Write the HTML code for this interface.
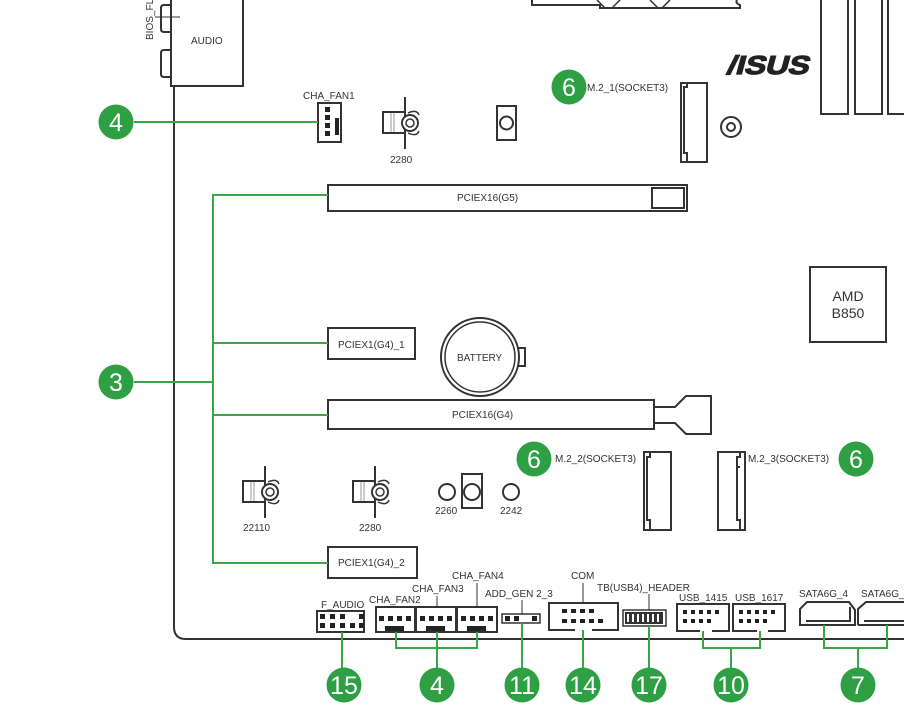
<!DOCTYPE html>
<html><head><meta charset="utf-8"><style>
html,body{margin:0;padding:0;background:#fff;}
svg{display:block;}
text{font-family:"Liberation Sans",sans-serif;fill:#333;}
.n{fill:#fff;font-size:25px;text-anchor:middle;}
</style></head><body>
<svg width="904" height="719" viewBox="0 0 904 719" xmlns="http://www.w3.org/2000/svg">
<defs>
<g id="so">
 <line x1="0" y1="-26" x2="0" y2="26" stroke="#333" stroke-width="2"/>
 <rect x="-22" y="-11" width="22" height="21" fill="#fff" stroke="#333" stroke-width="2"/>
 <line x1="-14" y1="-10" x2="-14" y2="9" stroke="#999" stroke-width="1"/>
 <line x1="-11" y1="-10" x2="-11" y2="9" stroke="#999" stroke-width="1"/>
 <path d="M3,-10 Q12,-14 14,-8 M3,10 Q12,14 14,8" fill="none" stroke="#333" stroke-width="1.5"/>
 <circle cx="5" cy="0" r="8" fill="#fff" stroke="#333" stroke-width="2"/>
 <circle cx="5" cy="0" r="4" fill="none" stroke="#333" stroke-width="1.5"/>
</g>
</defs>
<g fill="none" stroke="#333" stroke-width="2">
 <path d="M174,86 V627 Q174,639 186,639 H904"/>
 <rect x="171" y="-2" width="72" height="88" fill="#fff"/>
 <path d="M170,5 H164 Q161,5 161,8 V29 Q161,32 164,32 H170"/>
 <path d="M170,50 H164 Q161,50 161,53 V74 Q161,77 164,77 H170"/>
 <line x1="155" y1="17" x2="180" y2="17" stroke-width="1"/>
 <path d="M532,0 V5 H600 V8 H740 V5 Q735,3 737,0" />
 <path d="M597,0 L605,8 M620,0 L612,8 M650,0 L658,8 M670,0 L662,8" stroke-width="1.5"/>
 <rect x="821" y="-2" width="27" height="116"/>
 <rect x="855" y="-2" width="27" height="116"/>
 <rect x="888" y="-2" width="20" height="116"/>
 <rect x="318" y="103" width="23" height="39" fill="#fff"/>
 <rect x="497" y="106" width="19" height="34"/>
 <circle cx="506.5" cy="123" r="6.5"/>
 <path d="M681,83 H707 V162 H681 Z M681,83 H687 V87 H684 V153 H687 V162"/>
 <circle cx="731" cy="127" r="10"/><circle cx="731" cy="127" r="4"/>
 <rect x="328" y="185" width="359" height="26"/>
 <rect x="652" y="188" width="32" height="20"/>
 <rect x="328" y="328" width="87" height="31"/>
 <rect x="328" y="400" width="326" height="29"/>
 <path d="M654,407 H675 L686,396 H711 V434 H686 L675,423 H654"/>
 <rect x="328" y="547" width="89" height="31"/>
 <circle cx="480" cy="357" r="39"/>
 <circle cx="480" cy="357" r="35" stroke-width="1.5"/>
 <path d="M517,348 H525 V366 H517"/>
 <rect x="810" y="267" width="76" height="75"/>
 <path d="M644,452 H671 V530 H644 Z M650,452 V457 H647 V520 H650 V530"/>
 <path d="M718,452 H745 V530 H718 Z M740,452 V457 H737 V467 H740 M737,467 V520 H740 V530"/>
 <circle cx="447" cy="492" r="8"/>
 <rect x="462" y="474" width="20" height="34"/>
 <circle cx="472" cy="492" r="8"/>
 <circle cx="511" cy="492" r="8"/>
 <rect x="317" y="611" width="47" height="21"/>
 <rect x="376" y="607" width="39" height="25"/>
 <rect x="416" y="607" width="40" height="25"/>
 <rect x="457" y="607" width="40" height="25"/>
 <rect x="502" y="614" width="38" height="9" stroke-width="1.5"/>
 <path d="M575,630 H549 V603 H618 V630 H592"/>
 <rect x="623" y="610" width="43" height="16" stroke-width="1.5"/>
 <path d="M700,631 H677 V604 H729 V631 H712"/>
 <path d="M757,631 H733 V604 H785 V631 H768"/>
 <path d="M800,625 H855 V610 L849,602 H807 L800,609 Z M806,621 H850 V607"/>
 <path d="M858,625 H906 M858,625 V609 L866,602 H906 M864,621 H906 V607"/>
</g>
<use href="#so" transform="translate(405,123)"/>
<use href="#so" transform="translate(265,492)"/>
<use href="#so" transform="translate(375,492)"/>
<g fill="#222">
 <rect x="325" y="107" width="5" height="5"/><rect x="325" y="115" width="5" height="5"/><rect x="325" y="123" width="5" height="5"/><rect x="325" y="131" width="5" height="5"/>
 <rect x="335" y="118" width="4" height="17"/>
 <rect x="320" y="614" width="5" height="5"/><rect x="320" y="623" width="5" height="5"/>
 <rect x="330" y="614" width="5" height="5"/><rect x="330" y="623" width="5" height="5"/>
 <rect x="340" y="614" width="5" height="5"/><rect x="340" y="623" width="5" height="5"/>
 <rect x="350" y="623" width="5" height="5"/>
 <rect x="359" y="614" width="5" height="5"/><rect x="359" y="623" width="5" height="5"/>
 <g id="fp"><rect x="379" y="616" width="5" height="5"/><rect x="388" y="616" width="5" height="5"/><rect x="397" y="616" width="5" height="5"/><rect x="406" y="616" width="5" height="5"/><rect x="385" y="626" width="19" height="5"/></g>
 <use href="#fp" transform="translate(41,0)"/>
 <use href="#fp" transform="translate(82,0)"/>
 <rect x="505" y="616" width="5" height="5"/><rect x="514" y="616" width="5" height="5"/><rect x="532" y="616" width="5" height="5"/>
 <rect x="562" y="609" width="5" height="4"/><rect x="571" y="609" width="5" height="4"/><rect x="580" y="609" width="5" height="4"/><rect x="589" y="609" width="5" height="4"/>
 <rect x="562" y="619" width="5" height="4"/><rect x="571" y="619" width="5" height="4"/><rect x="580" y="619" width="5" height="4"/><rect x="589" y="619" width="5" height="4"/><rect x="598" y="619" width="5" height="4"/>
 <rect x="625" y="612" width="38" height="12" fill="#333"/>
 <g id="up"><rect x="683" y="610" width="4" height="4"/><rect x="691" y="610" width="4" height="4"/><rect x="699" y="610" width="4" height="4"/><rect x="707" y="610" width="4" height="4"/><rect x="715" y="610" width="4" height="4"/>
 <rect x="683" y="619" width="4" height="4"/><rect x="691" y="619" width="4" height="4"/><rect x="699" y="619" width="4" height="4"/><rect x="707" y="619" width="4" height="4"/></g>
 <use href="#up" transform="translate(56,0)"/>
</g>
<g fill="#fff"><rect x="627" y="614" width="2" height="8"/><rect x="632" y="614" width="2" height="8"/><rect x="637" y="614" width="2" height="8"/><rect x="642" y="614" width="2" height="8"/><rect x="647" y="614" width="2" height="8"/><rect x="652" y="614" width="2" height="8"/><rect x="657" y="614" width="2" height="8"/></g>
<text x="0" y="0" transform="translate(726,74) skewX(-15)" style="font-size:26px;font-weight:bold;fill:#222;stroke:#222;stroke-width:1.2" textLength="82" lengthAdjust="spacingAndGlyphs">/ISUS</text>
<g fill="none" stroke="#3aa64a" stroke-width="2">
 <line x1="134" y1="122" x2="318" y2="122"/>
 <line x1="134" y1="382" x2="213" y2="382"/>
 <path d="M328,195 H213 V563 H328 M213,343 H328 M213,415 H328"/>
 <line x1="342" y1="632" x2="342" y2="668"/>
 <path d="M396,632 V648 H477 V632 M437,632 V668"/>
 <line x1="522" y1="623" x2="522" y2="668"/>
 <line x1="583" y1="630" x2="583" y2="668"/>
 <line x1="649" y1="626" x2="649" y2="668"/>
 <path d="M703,631 V648 H760 V631 M731,648 V668"/>
 <path d="M824,625 V648 H887 V625 M858,648 V668"/>
</g>
<g stroke="#333" stroke-width="1" fill="none">
 <line x1="437" y1="607" x2="437" y2="596"/>
 <line x1="477" y1="607" x2="477" y2="583"/>
 <line x1="522" y1="614" x2="522" y2="600"/>
 <line x1="583" y1="603" x2="583" y2="583"/>
 <line x1="649" y1="610" x2="649" y2="594"/>
</g>
<g fill="#2ea043">
 <circle cx="116" cy="122" r="17.5"/><circle cx="116" cy="382" r="17.5"/>
 <circle cx="569" cy="87" r="17.5"/><circle cx="534" cy="459" r="17.5"/><circle cx="856" cy="459" r="17.5"/>
 <circle cx="344" cy="685" r="17.5"/><circle cx="437" cy="685" r="17.5"/><circle cx="522" cy="685" r="17.5"/><circle cx="583" cy="685" r="17.5"/><circle cx="649" cy="685" r="17.5"/><circle cx="731" cy="685" r="17.5"/><circle cx="858" cy="685" r="17.5"/>
</g>
<g>
 <text class="n" x="116" y="131">4</text><text class="n" x="116" y="391">3</text>
 <text class="n" x="569" y="96">6</text><text class="n" x="534" y="468">6</text><text class="n" x="856" y="468">6</text>
 <text class="n" x="344" y="694">15</text><text class="n" x="437" y="694">4</text><text class="n" x="522" y="694">11</text><text class="n" x="583" y="694">14</text><text class="n" x="649" y="694">17</text><text class="n" x="731" y="694">10</text><text class="n" x="858" y="694">7</text>
</g>
<g style="font-size:10px">
 <text x="0" y="0" transform="translate(153,40) rotate(-90)">BIOS_FLB</text>
 <text x="191" y="44">AUDIO</text>
 <text x="303" y="99">CHA_FAN1</text>
 <text x="390" y="163">2280</text>
 <text x="587" y="91">M.2_1(SOCKET3)</text>
 <text x="457" y="201">PCIEX16(G5)</text>
 <text x="338" y="348">PCIEX1(G4)_1</text>
 <text x="457" y="361">BATTERY</text>
 <text x="452" y="418">PCIEX16(G4)</text>
 <text x="555" y="462">M.2_2(SOCKET3)</text>
 <text x="748" y="462">M.2_3(SOCKET3)</text>
 <text x="243" y="531">22110</text>
 <text x="359" y="531">2280</text>
 <text x="435" y="514">2260</text>
 <text x="500" y="514">2242</text>
 <text x="338" y="566">PCIEX1(G4)_2</text>
 <text x="321" y="608">F_AUDIO</text>
 <text x="369" y="603">CHA_FAN2</text>
 <text x="412" y="592">CHA_FAN3</text>
 <text x="452" y="579">CHA_FAN4</text>
 <text x="485" y="597">ADD_GEN 2_3</text>
 <text x="571" y="579">COM</text>
 <text x="597" y="591">TB(USB4)_HEADER</text>
 <text x="679" y="601">USB_1415</text>
 <text x="735" y="601">USB_1617</text>
 <text x="799" y="597">SATA6G_4</text>
 <text x="861" y="597">SATA6G_3</text>
</g>
<g style="font-size:14px">
 <text x="848" y="301" text-anchor="middle">AMD</text>
 <text x="848" y="318" text-anchor="middle">B850</text>
</g>
</svg>
</body></html>
